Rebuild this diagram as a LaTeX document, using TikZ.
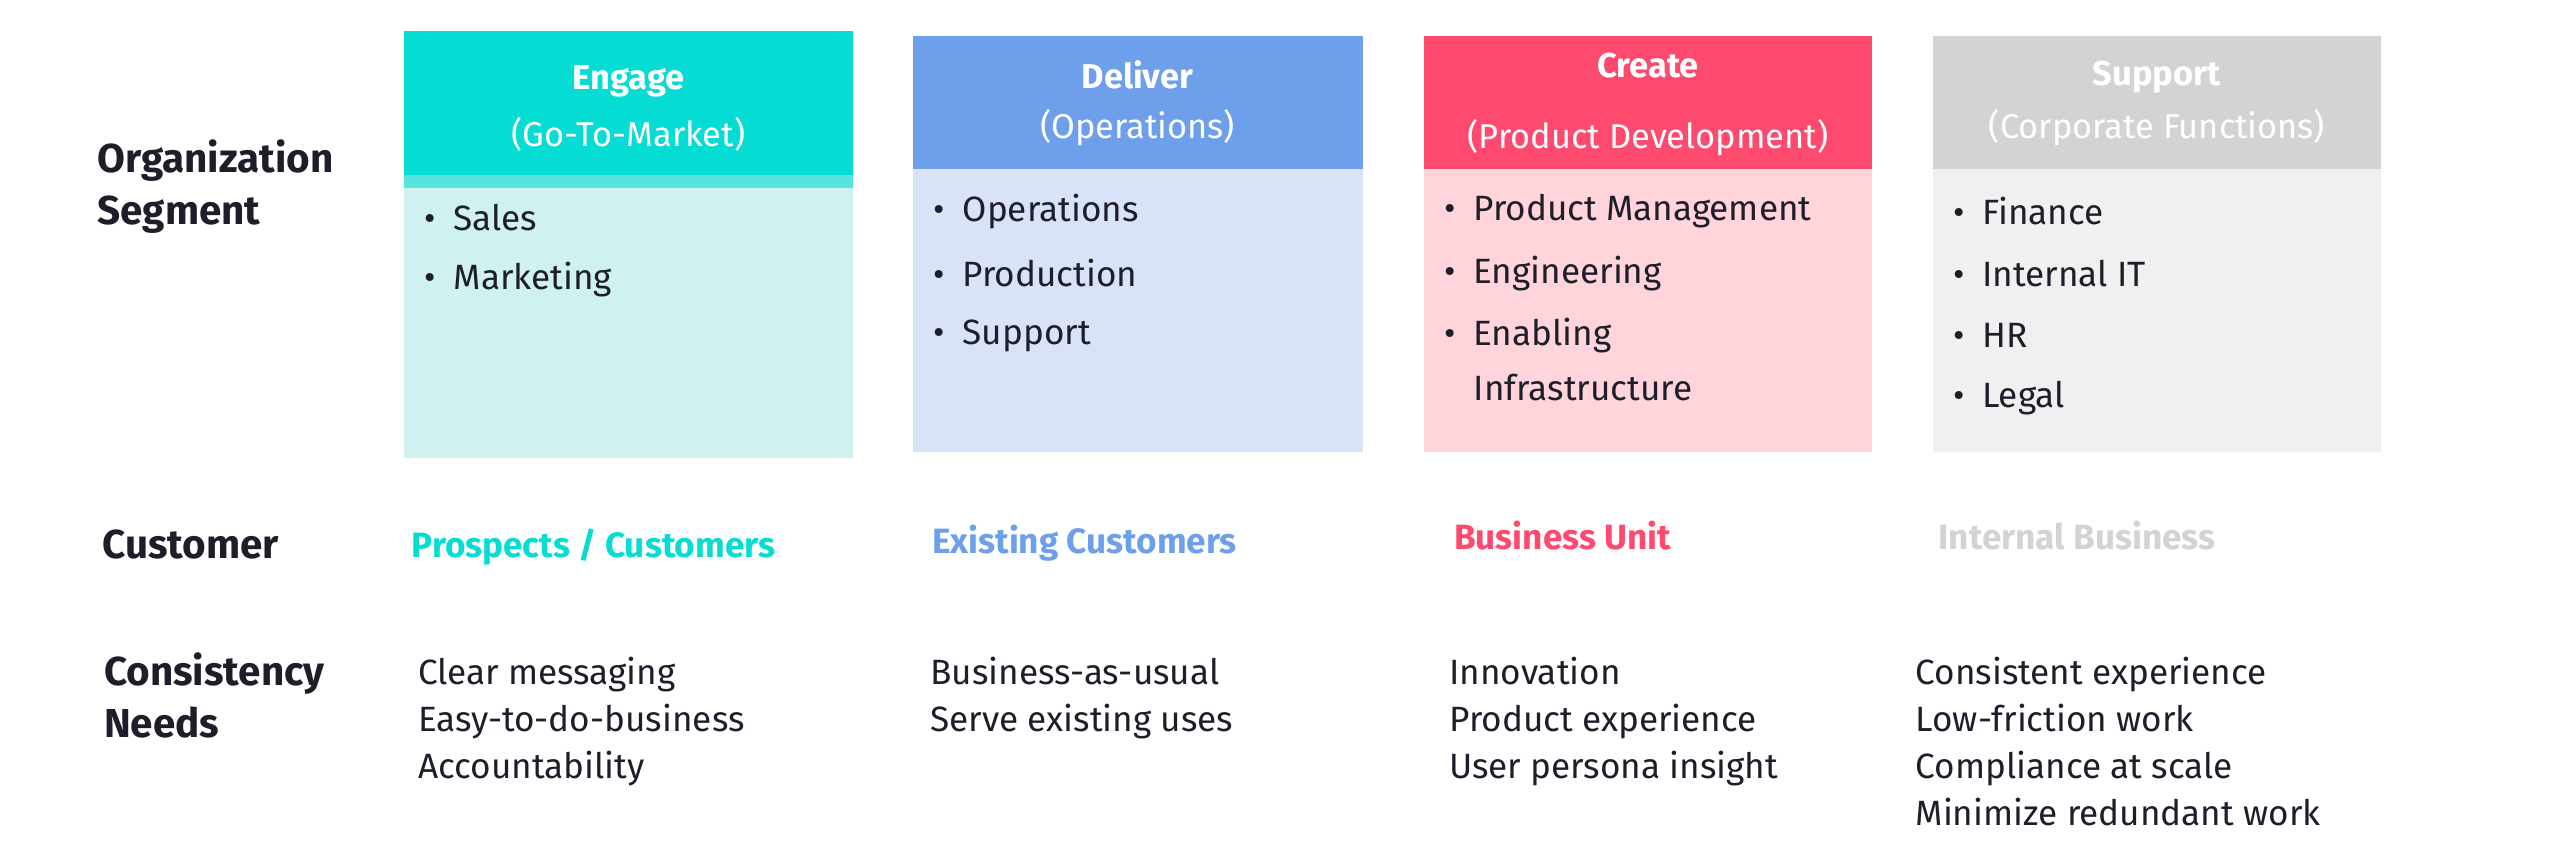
\documentclass[tikz,border=0pt]{standalone}
\usepackage{fontspec}
\setmainfont{Fira Sans}
\definecolor{teal}{HTML}{05DCD4}\definecolor{tealL}{HTML}{CFF1EF}
\definecolor{blu}{HTML}{6E9FEA}\definecolor{bluL}{HTML}{D9E3F8}
\definecolor{red}{HTML}{FF4A70}\definecolor{redL}{HTML}{FFD5DB}
\definecolor{gry}{HTML}{D3D3D3}\definecolor{gryL}{HTML}{F0F0F0}
\definecolor{ink}{HTML}{1E1E2A}
\begin{document}
\begin{tikzpicture}[x=0.01637cm,y=-0.01637cm,
 lab/.style={anchor=west,font=\fontsize{11.5}{15}\selectfont\bfseries,text=ink,align=left},
 hd/.style={font=\fontsize{9.8}{12}\selectfont,text=white,align=center},
 it/.style={anchor=west,font=\fontsize{10}{12}\selectfont,text=ink},
 cu/.style={anchor=west,font=\fontsize{10}{12}\selectfont\bfseries},
 nd/.style={anchor=north west,font=\fontsize{10}{13.4}\selectfont,text=ink,align=left}]
\useasboundingbox (0,0) rectangle (1560,521);
% boxes
\fill[tealL] (247,107) rectangle (521,280);
\fill[teal!60!tealL] (247,107) rectangle (521,115);
\fill[teal] (247,19) rectangle (521,107);
\fill[bluL] (558,103) rectangle (833,276);\fill[blu] (558,22) rectangle (833,103);
\fill[redL] (870,103) rectangle (1144,276);\fill[red] (870,22) rectangle (1144,103);
\fill[gryL] (1181,103) rectangle (1455,276);\fill[gry] (1181,22) rectangle (1455,103);
% headers
\node[hd] (h1) at (384,50) {\textbf{Engage}};
\node[hd] (h1b) at (384,82) {(Go-To-Market)};
\node[hd] (h2) at (695,46) {\textbf{Deliver}};
\node[hd] (h2b) at (695,78) {(Operations)};
\node[hd] (h3) at (1007,40) {\textbf{Create}};
\node[hd] (h3b) at (1007,84) {(Product Development)};
\node[hd] (h4) at (1318,47) {\textbf{Support}};
\node[hd] (h4b) at (1318,78) {(Corporate Functions)};
% items
\node[it] (a1) at (252,133) {•\hspace{0.5em}Sales};
\node[it] (a2) at (252,171) {•\hspace{0.5em}Marketing};
\node[it] (b1) at (563,129) {•\hspace{0.5em}Operations};
\node[it] (b2) at (563,167) {•\hspace{0.5em}Production};
\node[it] (b3) at (563,205) {•\hspace{0.5em}Support};
\node[it] (c1) at (875,129) {•\hspace{0.5em}Product Management};
\node[it] (c2) at (875,167) {•\hspace{0.5em}Engineering};
\node[it] (c3) at (875,205) {•\hspace{0.5em}Enabling};
\node[it] (c4) at (893,237) {Infrastructure};
\node[it] (d1) at (1186,129) {•\hspace{0.5em}Finance};
\node[it] (d2) at (1186,167) {•\hspace{0.5em}Internal IT};
\node[it] (d3) at (1186,205) {•\hspace{0.5em}HR};
\node[it] (d4) at (1186,243) {•\hspace{0.5em}Legal};
% labels
\node[lab] (l1) at (52,114) {Organization\\Segment};
\node[lab] (l2) at (55,333) {Customer};
\node[lab] (l3) at (56,425) {Consistency\\Needs};
% customers
\node[cu,text=teal] (k1) at (244,334) {Prospects / Customers};
\node[cu,text=blu] (k2) at (562,332) {Existing Customers};
\node[cu,text=red] (k3) at (881,327) {Business Unit};
\node[cu,text=gry] (k4) at (1177,327) {Internal Business};
% needs
\node[nd] (n1) at (248,394) {Clear messaging\\Easy-to-do-business\\Accountability};
\node[nd] (n2) at (561,394) {Business-as-usual\\Serve existing uses};
\node[nd] (n3) at (878,394) {Innovation\\Product experience\\User persona insight};
\node[nd] (n4) at (1163,394) {Consistent experience\\Low-friction work\\Compliance at scale\\Minimize redundant work};
\end{tikzpicture}
\end{document}
